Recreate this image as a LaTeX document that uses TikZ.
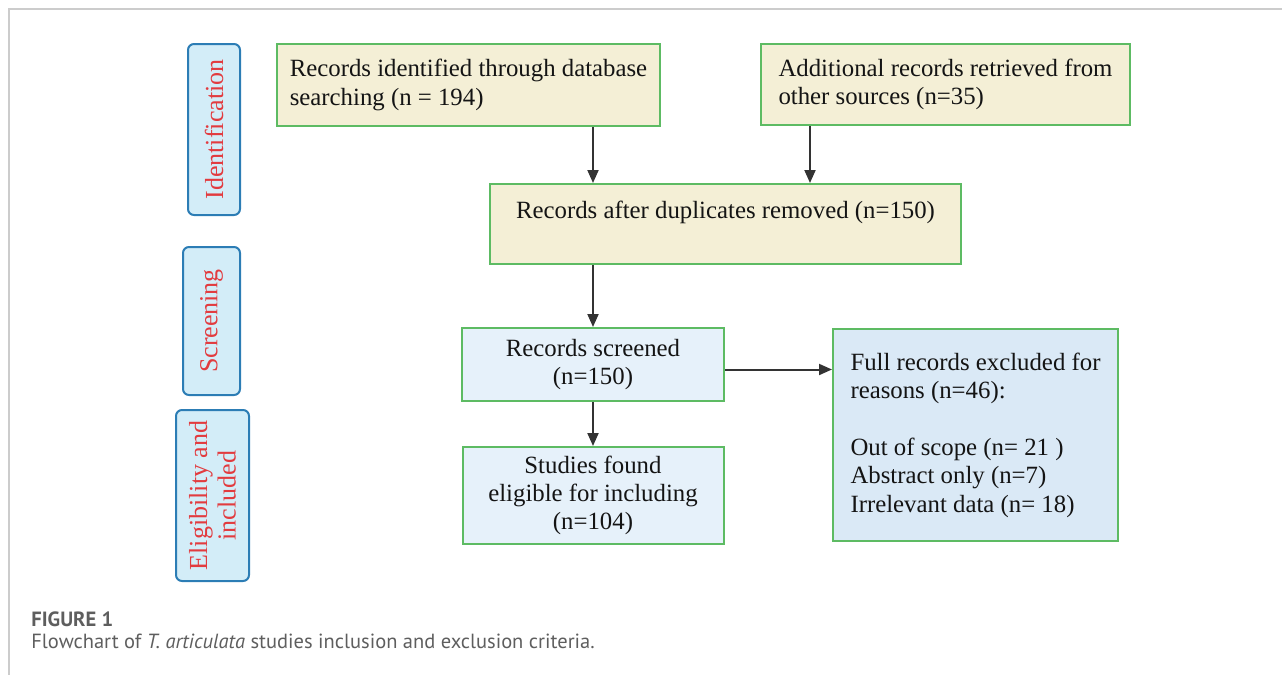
\documentclass[tikz,border=0pt]{standalone}
\usepackage{fontspec}
\setmainfont{Liberation Serif}
\newfontfamily\capfont{PT Sans}
\usetikzlibrary{positioning,arrows.meta}
\definecolor{boxgreen}{HTML}{5DBB63}
\definecolor{beige}{HTML}{F4EFD6}
\definecolor{paleblue}{HTML}{E6F1FA}
\definecolor{midblue}{HTML}{DAE9F6}
\definecolor{tabblue}{HTML}{2C7DB5}
\definecolor{tabfill}{HTML}{D3EDF8}
\definecolor{tabred}{HTML}{E23B3F}
\definecolor{framegray}{HTML}{CCCCCC}
\definecolor{capgray}{HTML}{5E5E5E}

\begin{document}
\begin{tikzpicture}[x=0.5pt, y=-0.5pt,
  box/.style={draw=boxgreen, line width=1pt, fill=beige, font=\fontsize{12.4}{14.2}\selectfont, text=black!92},
  screen/.style={box, fill=paleblue, align=center},
  excl/.style={box, fill=midblue, align=left},
  tab/.style={draw=tabblue, line width=1pt, fill=tabfill, rounded corners=3pt, rotate=90, align=center,
    text=tabred, font=\fontsize{13}{14.2}\selectfont},
  arr/.style={-{Triangle[length=6.5pt, width=5.5pt]}, line width=1pt, draw=black!80},
  captxt/.style={anchor=base west, inner sep=0pt, text=capgray}]
\useasboundingbox (0,0) rectangle (1282,675);
\draw[framegray, line width=0.8pt] (9,675) -- (9,9) -- (1282,9);
% stage tabs
\node[tab, minimum width=85.5pt, minimum height=26pt] (tident) at (214,129.5) {Identification};
\node[tab, minimum width=74pt, minimum height=28.5pt] (tscreen) at (211.5,321) {Screening};
\node[tab, minimum width=85.5pt, minimum height=36.5pt] (telig) at (212.5,495.5) {Eligibility and\\included};
% flow boxes
\node[box, align=left, minimum width=191.5pt, minimum height=41pt] (dbase) at (468.5,85)
  {Records identified through database\\searching (n = 194)};
\node[box, align=left, minimum width=184.5pt, minimum height=40.5pt] (other) at (945.5,84.5)
  {Additional records retrieved from\\other sources (n=35)};
\node[box, align=left, minimum width=235.5pt, minimum height=40pt] (dupl) at (725.5,224)
  {Records after duplicates removed (n=150)\\\mbox{}};
\node[screen, minimum width=131pt, minimum height=36.5pt] (screened) at (593,364.5)
  {Records screened\\(n=150)};
\node[screen, minimum width=130.5pt, minimum height=48.5pt, below=22pt of screened] (eligible)
  {Studies found\\eligible for including\\(n=104)};
\node[excl, minimum width=142.5pt, minimum height=106pt] (excluded) at (975.5,435)
  {Full records excluded for\\reasons (n=46):\\[14.2pt]Out of scope (n= 21 )\\Abstract only (n=7)\\Irrelevant data (n= 18)};
% connectors
\draw[arr] (dbase.south -| screened) -- (dupl.north -| screened);
\draw[arr] ([xshift=25pt]other.south west) -- ([xshift=25pt]other.south west |- dupl.north);
\draw[arr] (dupl.south -| screened) -- (screened.north);
\draw[arr] (screened.south) -- (eligible.north);
\draw[arr] ([yshift=-2.5pt]screened.east) -- ([yshift=-2.5pt]screened.east -| excluded.west);
% caption
\node[captxt, font=\capfont\bfseries\fontsize{10.3}{12}\selectfont] (figno) at (31,626) {FIGURE 1};
\node[captxt, font=\capfont\fontsize{10.25}{12}\selectfont] (captext) at (31,648)
  {Flowchart of \textit{T. articulata} studies inclusion and exclusion criteria.};
\end{tikzpicture}
\end{document}
